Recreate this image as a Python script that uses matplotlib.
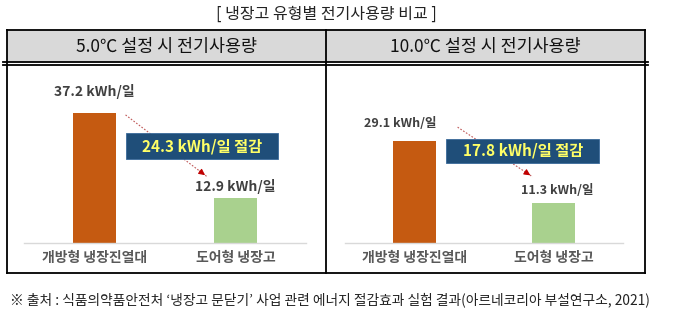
import matplotlib.pyplot as plt
from matplotlib.patches import Rectangle

plt.rcParams["font.family"] = ["Noto Sans CJK KR", "DejaVu Sans"]

W, H = 680, 325

# ----------------------------------------------------------------- data
title = "[ 냉장고 유형별 전기사용량 비교 ]"
panel_titles = ["5.0℃ 설정 시 전기사용량", "10.0℃ 설정 시 전기사용량"]
categories = ["개방형 냉장진열대", "도어형 냉장고"]
usage_5c = [37.2, 12.9]
usage_10c = [29.1, 11.3]
saving = [24.3, 17.8]
unit = "kWh/일"
source = ("※ 출처 : 식품의약품안전처 ‘냉장고 문닫기’ 사업 관련 에너지 "
          "절감효과 실험 결과(아르네코리아 부설연구소, 2021)")

ORANGE, GREEN = "#C55A11", "#A9D18E"
NAVY, YELLOW = "#1F4E79", "#FFFF66"
LABEL_C, CAT_C = "#404040", "#595959"

fig = plt.figure(figsize=(W / 100, H / 100), dpi=100)

# background axes in pixel units for the table frame and captions
bg = fig.add_axes([0, 0, 1, 1])
bg.set_xlim(0, W)
bg.set_ylim(H, 0)
bg.axis("off")

L, R, MID, TOP, HB, BOT = 7, 645, 326, 30, 62, 273
bg.add_patch(Rectangle((L, TOP), R - L, HB - TOP, fc="#D9D9D9", ec="none"))
lw = 1.3
bg.plot([L, R], [TOP, TOP], color="k", lw=lw)
bg.plot([3, R + 3], [HB, HB], color="k", lw=lw)
bg.plot([3, R + 3], [HB + 3, HB + 3], color="k", lw=lw)
bg.plot([L, R], [BOT, BOT], color="k", lw=lw)
for x in (L, MID, R):
    bg.plot([x, x], [TOP, BOT], color="k", lw=lw)

bg.text(326, 14, title, ha="center", va="center", fontsize=11.5, color="#222222")
bg.text((L + MID) / 2, 47, panel_titles[0], ha="center", va="center", fontsize=12.5, color="#111111")
bg.text((MID + R) / 2, 47, panel_titles[1], ha="center", va="center", fontsize=12.5, color="#111111")
bg.text(10, 300, source, ha="left", va="center", fontsize=9.9, color="#222222")


def panel(rect, values, save, lab_off, box_xy, box_wh, arrow, lab_size):
    ax = fig.add_axes(rect)
    x = [0, 1]
    ax.bar(x, values, width=0.31, color=[ORANGE, GREEN], zorder=2)
    ax.set_xlim(-0.5, 1.5)
    ax.set_ylim(0, 40)
    for xi, v, (dx, dy) in zip(x, values, lab_off):
        ax.annotate(f"{v} {unit}", (xi, v), xytext=(dx, dy), textcoords="offset points",
                    ha="center", va="center", fontsize=lab_size, fontweight="bold",
                    color=LABEL_C, annotation_clip=False)
    # dotted arrow from the tall bar down to the short one
    (x0, y0), (x1, y1) = arrow
    ax.plot([x0, x1], [y0, y1], color="#B03030", lw=0.8, ls=(0, (1.5, 1.5)),
            clip_on=False, zorder=1, alpha=0.8)
    ax.annotate("", xy=(x1, y1), xytext=(x1 - (x1 - x0) * 0.12, y1 - (y1 - y0) * 0.12),
                arrowprops=dict(arrowstyle="-|>", color="#C00000", lw=0.8, mutation_scale=9),
                annotation_clip=False, zorder=1)
    bx, by = box_xy
    bw, bh = box_wh
    ax.add_patch(Rectangle((bx - bw / 2, by - bh / 2), bw, bh, fc=NAVY, ec="#3A6A9A",
                           lw=0.6, clip_on=False, zorder=3))
    ax.text(bx, by, f"{save} {unit} 절감", ha="center", va="center", fontsize=11,
            fontweight="bold", color=YELLOW, zorder=4)
    ax.set_xticks(x, categories, fontsize=10, fontweight="bold", color=CAT_C)
    ax.tick_params(axis="x", length=0, pad=6)
    ax.set_yticks([])
    for s in ("top", "right", "left"):
        ax.spines[s].set_visible(False)
    ax.spines["bottom"].set_color("#D9D9D9")
    ax.spines["bottom"].set_linewidth(1.0)
    ax.patch.set_alpha(0)
    return ax


base = (H - 243) / H
panel([24 / W, base, 282 / W, 140 / H], usage_5c, saving[0],
      [(0, 15), (0, 8)], (0.76, 27.7), (1.08, 7.4),
      ((0.22, 36.6), (0.80, 18.9)), 10)
panel([345 / W, base, 278 / W, 140 / H], usage_10c, saving[1],
      [(-10, 13), (3, 9.5)], (0.78, 26.3), (1.10, 7.1),
      ((0.31, 33.1), (0.85, 18.9)), 9)

fig.savefig("out.png", dpi=100)
